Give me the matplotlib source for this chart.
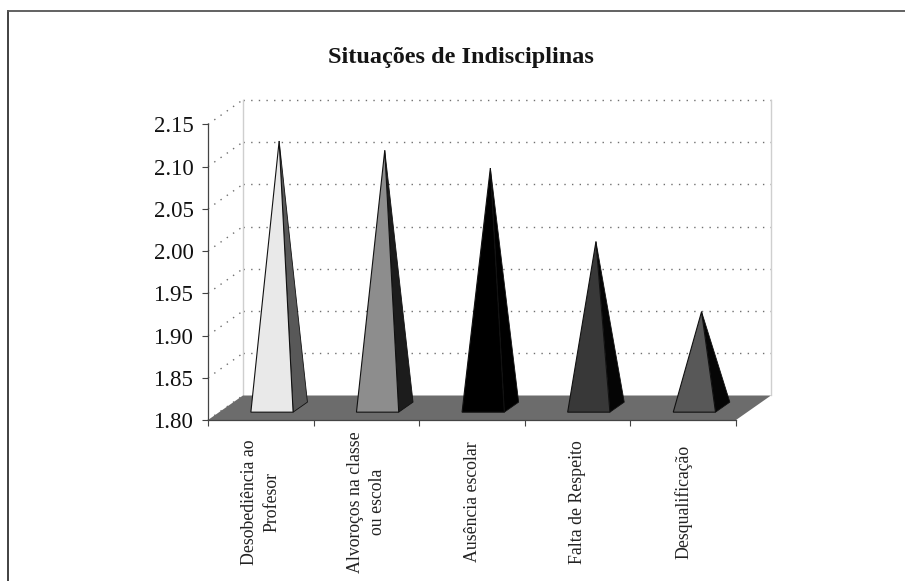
"""Situações de Indisciplinas: oblique 3D pyramid chart built on a plain 2D axes."""
import matplotlib
matplotlib.use("Agg")
import matplotlib.pyplot as plt
from matplotlib.lines import Line2D
from matplotlib.patches import Polygon

categories = ["Desobediência ao\nProfesor", "Alvoroços na classe\nou escola",
              "Ausência escolar", "Falta de Respeito", "Desqualificação"]
values = [2.115, 2.104, 2.083, 1.996, 1.913]
y_ticks = [1.80, 1.85, 1.90, 1.95, 2.00, 2.05, 2.10, 2.15]
front_colors = ["#e9e9e9", "#8d8d8d", "#000000", "#383838", "#585858"]
side_colors = ["#585858", "#1c1c1c", "#000000", "#050505", "#060606"]
title = "Situações de Indisciplinas"

W, H = 905, 581
YMIN, YMAX = 1.80, 2.15
# oblique depth of the chart box, in data units
DX = 0.331
DY = 0.029
BAR_W = 0.40
D_FRONT, D_BACK = 0.32, 0.73

plt.rcParams["font.family"] = ["Liberation Serif", "DejaVu Serif"]

fig = plt.figure(figsize=(W / 100, H / 100), dpi=100, facecolor="white")
ax = fig.add_axes([208 / W, (H - 420) / H, (736 - 208) / W, (420 - 124.3) / H])
ax.set_xlim(0, len(categories))
ax.set_ylim(YMIN, YMAX)
ax.patch.set_visible(False)


def proj(x, y, d):
    return x + d * DX, y + d * DY


n = len(categories)
dotted = dict(color="#707070", lw=1.0, ls=(0, (1, 4.5)), clip_on=False, zorder=1)

# floor
floor = [proj(0, YMIN, 0), proj(n, YMIN, 0), proj(n, YMIN, 1), proj(0, YMIN, 1)]
ax.add_patch(Polygon(floor, closed=True, fc="#6c6c6c", ec="none", clip_on=False, zorder=2))

# back wall and side wall
for v in y_ticks:
    if v > YMIN:
        xs, ys = zip(proj(0, v, 1), proj(n, v, 1))
        ax.plot(xs, ys, **dotted)
    xs, ys = zip(proj(0, v, 0), proj(0, v, 1))
    ax.plot(xs, ys, **dotted)
for x in (0, n):
    xs, ys = zip(proj(x, YMIN, 1), proj(x, YMAX, 1))
    ax.plot(xs, ys, color="#cfcfcf", lw=1.0, clip_on=False, zorder=1)

# pyramids
for i, v in enumerate(values):
    c = i + 0.5
    fl = proj(c - BAR_W / 2, YMIN, D_FRONT)
    fr = proj(c + BAR_W / 2, YMIN, D_FRONT)
    br = proj(c + BAR_W / 2, YMIN, D_BACK)
    apex = proj(c, v, (D_FRONT + D_BACK) / 2)
    ax.add_patch(Polygon([fr, br, apex], closed=True, fc=side_colors[i], ec="#111111",
                         lw=0.6, clip_on=False, zorder=3))
    ax.add_patch(Polygon([fl, fr, apex], closed=True, fc=front_colors[i], ec="#111111",
                         lw=0.8, clip_on=False, zorder=4))

# axes
for s in ("top", "right"):
    ax.spines[s].set_visible(False)
for s in ("left", "bottom"):
    ax.spines[s].set_color("#444444")
    ax.spines[s].set_linewidth(0.9)
    ax.spines[s].set_zorder(5)
ax.set_yticks(y_ticks)
ax.set_yticklabels([f"{v:.2f}" for v in y_ticks], fontsize=16.5, color="#111111")
ax.set_xticks(range(n + 1))
ax.set_xticklabels([])
ax.tick_params(axis="both", direction="out", length=4.5, width=0.8, color="#444444")
ax.tick_params(axis="y", pad=6)

# category labels are centred on a common line below the axis
label_tf = ax.get_xaxis_transform()
label_y = (420 - 502) / (420 - 124.3)
for i, name in enumerate(categories):
    ax.text(i + 0.5, label_y, name, transform=label_tf, rotation=90, ha="center", va="center",
            multialignment="center", fontsize=12.8, color="#222222", linespacing=1.44)

fig.text(461 / W, 1 - 58 / H, title, ha="center", va="center", fontsize=17.5,
         fontweight="bold", color="#151515")

# page frame, open at the right and bottom
fig.add_artist(Line2D([7.5 / W, 7.5 / W], [0, 1 - 10.7 / H], color="#333333", lw=1.3))
fig.add_artist(Line2D([7.5 / W, 1], [1 - 10.7 / H, 1 - 10.7 / H], color="#555555", lw=1.3))

fig.savefig("out.png", dpi=100)
